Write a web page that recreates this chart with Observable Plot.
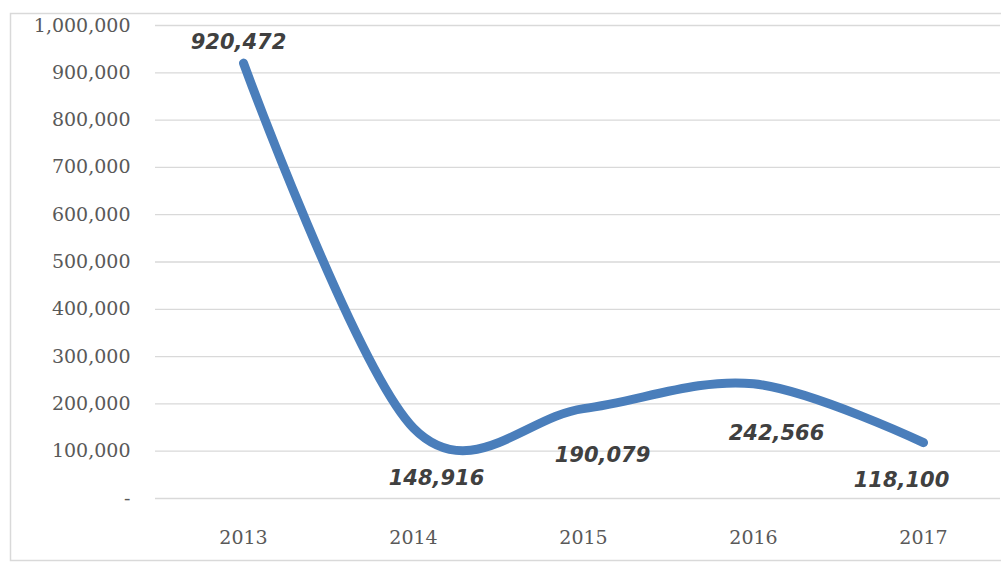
<!DOCTYPE html>
<html>
<head>
<meta charset="utf-8">
<script src="https://cdn.jsdelivr.net/npm/d3@7"></script>
<script src="https://cdn.jsdelivr.net/npm/@observablehq/plot@0.6"></script>
<style>
  html, body { margin: 0; padding: 0; background: #fff; }
  #chart svg { display: block; }
</style>
</head>
<body>
<div id="chart"></div>
<script>
const years = ["2013", "2014", "2015", "2016", "2017"];
const values = [920472, 148916, 190079, 242566, 118100];
const yTicks = [0, 100000, 200000, 300000, 400000, 500000, 600000, 700000, 800000, 900000, 1000000];

const data = years.map((year, i) => ({year, value: values[i], label: d3.format(",")(values[i])}));

// label nudges (dx, dy) as in the original data labels
const nudges = [[-5, -21], [23, 50], [19, 47], [23, 49], [-22, 38]];

const labelMarks = data.map((d, i) =>
  Plot.text([d], {
    x: "year", y: "value", text: "label",
    dx: nudges[i][0], dy: nudges[i][1],
    fontSize: 21, fontWeight: "bold", fontStyle: "italic",
    fontFamily: "DejaVu Sans", fill: "#404040"
  })
);

const chart = Plot.plot({
  width: 1001,
  height: 562,
  marginLeft: 155,
  marginRight: 1,
  marginTop: 25,
  marginBottom: 64,
  style: {background: "#fff"},
  x: {type: "point", domain: years, range: [158, 1008], label: null},
  y: {domain: [0, 1000000], label: null},
  marks: [
    Plot.ruleY(yTicks, {stroke: "#d9d9d9", strokeWidth: 1.3}),
    Plot.axisY({
      ticks: yTicks, tickSize: 0, tickPadding: 25, label: null,
      tickFormat: v => v === 0 ? "-" : d3.format(",")(v),
      fontSize: 19, fontFamily: "DejaVu Serif", fill: "#595959"
    }),
    Plot.axisX({
      tickSize: 0, tickPadding: 32, label: null,
      fontSize: 19, fontFamily: "DejaVu Serif", fill: "#595959"
    }),
    Plot.line(data, {
      x: "year", y: "value", curve: "cardinal", tension: 0,
      stroke: "#4a7ebb", strokeWidth: 9, strokeLinecap: "round", strokeLinejoin: "round"
    }),
    ...labelMarks
  ]
});

// faint chart-area border
d3.select(chart).insert("rect", ":first-child")
  .attr("x", 10.5).attr("y", 13.5).attr("width", 1000).attr("height", 547)
  .attr("fill", "none").attr("stroke", "#d9d9d9").attr("stroke-width", 1.5);

document.getElementById("chart").append(chart);
</script>
</body>
</html>
